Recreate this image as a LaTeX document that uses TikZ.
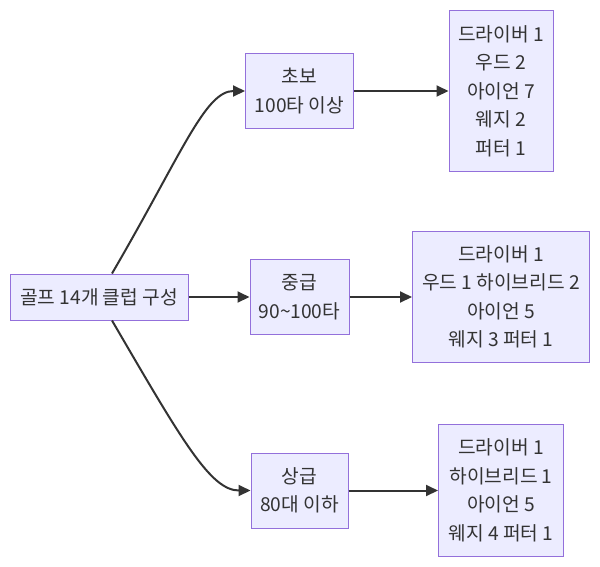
\documentclass[tikz,border=0pt]{standalone}
\usepackage{fontspec}
\setmainfont{Noto Sans CJK KR}
\usetikzlibrary{arrows.meta,positioning}
\definecolor{golffill}{HTML}{ECECFF}
\definecolor{golfline}{HTML}{9370DB}
\definecolor{golfink}{HTML}{333333}
\tikzset{
  golfblock/.style={draw=golfline, fill=golffill, line width=1pt, align=center, inner sep=0pt, text=golfink, font=\fontsize{19.2}{28.5}\selectfont},
  golfarrow/.style={-{Triangle[length=12pt,width=11pt]}, line width=2pt, draw=golfink}
}

\begin{document}
\begin{tikzpicture}[x=1pt, y=-1pt]
\useasboundingbox (0,0) rectangle (600,566);
\node[golfblock, minimum width=178pt, minimum height=46pt] (root) at (99,297) {골프 14개 클럽 구성};
\node[golfblock, right=61pt of root, minimum width=99pt, minimum height=75pt] (mid) {중급\\90\textasciitilde100타};
\node[golfblock, right=62.5pt of mid, minimum width=177pt, minimum height=131pt] (midset) {드라이버 1\\우드 1 하이브리드 2\\아이언 5\\웨지 3 퍼터 1};
\node[golfblock, above=59pt of midset, minimum width=104pt, minimum height=161pt] (begset) {드라이버 1\\우드 2\\아이언 7\\웨지 2\\퍼터 1};
\node[golfblock, below=61pt of midset, minimum width=125pt, minimum height=132pt] (advset) {드라이버 1\\하이브리드 1\\아이언 5\\웨지 4 퍼터 1};
\node[golfblock, minimum width=108pt, minimum height=75pt] (beg) at (mid |- begset) {초보\\100타 이상};
\node[golfblock, minimum width=97pt, minimum height=75pt] (adv) at (mid |- advset) {상급\\80대 이하};
% level branches
\draw[golfarrow] ([xshift=13pt]root.north) .. controls +(70,-120) and +(-40,0) .. (beg.west);
\draw[golfarrow] (root) -- (mid);
\draw[golfarrow] ([xshift=13pt]root.south) .. controls +(70,120) and +(-40,0) .. (adv.west);
% club sets
\draw[golfarrow] (beg) -- (begset);
\draw[golfarrow] (mid) -- (midset);
\draw[golfarrow] (adv) -- (advset);
\end{tikzpicture}
\end{document}
